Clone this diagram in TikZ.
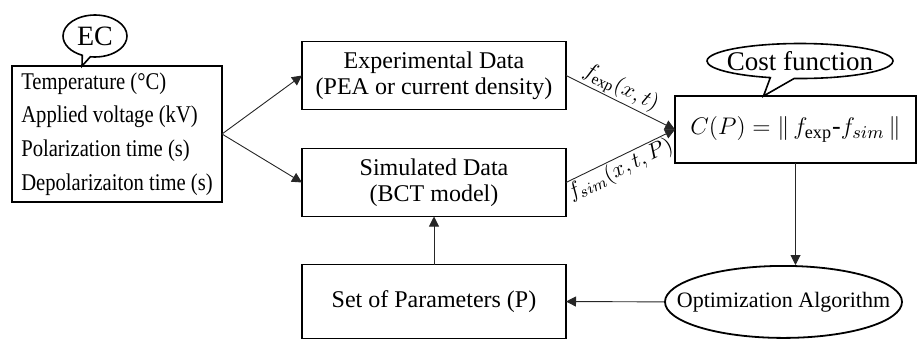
\documentclass[tikz,border=0pt]{standalone}
\usepackage{fontspec}
\setmainfont{Liberation Serif}
\newfontfamily\narrowfont[FakeStretch=0.86]{Liberation Serif}
\usetikzlibrary{positioning, arrows.meta, shapes.geometric, shapes.callouts}

\begin{document}
\begin{tikzpicture}[
    x=0.5pt, y=-0.5pt,
    font=\fontsize{12}{13}\selectfont,
    block/.style={
        rectangle, draw=black, line width=0.9pt,
        minimum width=132pt, minimum height=34pt,
        align=center, inner sep=2pt, outer sep=0pt,
    },
    condbox/.style={
        block, minimum width=105pt, minimum height=68pt,
        align=left, font=\narrowfont\fontsize{12}{16.8}\selectfont,
    },
    costbox/.style={block, minimum width=120.5pt, minimum height=33.5pt, font=\fontsize{13}{14}\selectfont},
    algo/.style={ellipse, draw=black, line width=0.9pt, minimum width=118.5pt, minimum height=36pt,
        inner sep=0pt, font=\fontsize{11}{12}\selectfont},
    bubble/.style={ellipse callout, draw=black, line width=0.8pt, inner sep=0pt, font=\fontsize{14}{14}\selectfont},
    flow/.style={-{Triangle[length=5pt, width=5pt]}, draw=black!85, line width=0.45pt},
    lbl/.style={sloped, inner sep=0.5pt, font=\fontsize{11}{11}\selectfont},
]
\useasboundingbox (0,0) rectangle (920,339);

% --- Experimental conditions ---
\node[condbox] (ec) at (117,134)
    {Temperature (°C)\\ Applied voltage (kV)\\ Polarization time (s)\\ Depolarizaiton time (s)};
\node[bubble, minimum width=32pt, minimum height=21pt,
      callout absolute pointer={([xshift=-17.5pt]ec.north)}] (ectag) at (95,36) {EC};

% --- Data and parameter blocks ---
\node[block] (exp) at (434,75.5) {Experimental Data\\(PEA or current density)};
\node[block, below=19.5pt of exp] (sim) {Simulated Data\\(BCT model)};
\node[block, below=24pt of sim, minimum height=37pt] (par) {Set of Parameters (P)};

% --- Cost function and optimizer ---
\node[costbox] (cost) at (795.5,129.5) {$C(P) = \|\, f_{\mathrm{exp}}$-$f_{sim} \,\|$};
\node[bubble, minimum width=93pt, minimum height=17.5pt, font=\fontsize{13.5}{14}\selectfont,
      callout absolute pointer={([xshift=-16pt]cost.north)}] (costtag) at (800,61)
    {\makebox[60pt]{Cost function}};
\node[algo, below=51pt of cost, xshift=-6pt] (opt) {\makebox[80pt]{Optimization Algorithm}};

% --- Connectors ---
\draw[flow] (ec.east) -- (exp.west);
\draw[flow] (ec.east) -- (sim.west);
\draw[flow] (exp.east) -- node[lbl, above, pos=0.45] {$f_{\mathrm{exp}}(x,t)$} (cost.west);
\draw[flow] (sim.east) -- node[lbl, below, pos=0.45] {$f_{sim}(x,t,P)$} (cost.west);
\draw[flow] (cost.south) -- (cost.south |- opt.north);
\draw[flow] (opt.west) -- (par.east);
\draw[flow] (par.north) -- (sim.south);

\end{tikzpicture}
\end{document}
